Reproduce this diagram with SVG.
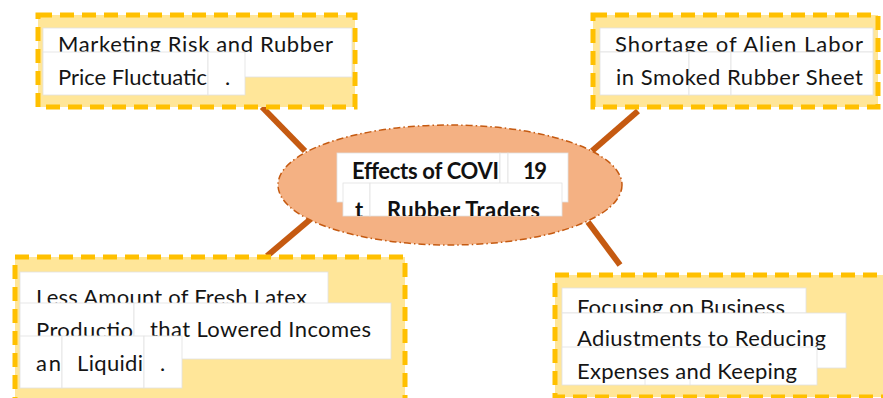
<svg xmlns="http://www.w3.org/2000/svg" width="883" height="398" viewBox="0 0 883 398">
<style>
.frame{fill:#FFE699;stroke:#FFC000;stroke-width:5;stroke-dasharray:14 8}
.wb{fill:#fff;stroke:#e2e2e2;stroke-width:0.8}
.t{font-family:Lato,"Liberation Sans",sans-serif;font-size:22px;fill:#151515}
.tb{font-family:Lato,"Liberation Sans",sans-serif;font-size:22px;font-weight:bold;fill:#111}
.con{stroke:#C55A11;stroke-width:6;fill:none}
</style>
<defs>
<clipPath id="clipC"><rect x="330" y="180" width="240" height="36"/></clipPath>
<clipPath id="clipBR"><rect x="560" y="347" width="260" height="38"/></clipPath>
</defs>
<rect width="883" height="398" fill="#fff"/>
<g id="connectors">
<line class="con" x1="262" y1="107" x2="305" y2="151"/>
<line class="con" x1="638" y1="111" x2="592" y2="151"/>
<line class="con" x1="313" y1="217" x2="267" y2="256"/>
<line class="con" x1="588" y1="222" x2="620" y2="265"/>
</g>
<g id="node-tl">
<rect class="frame" x="38" y="15" width="317" height="92"/>
<rect class="wb" x="43" y="28" width="309" height="49"/>
<text class="t" x="58" y="52" textLength="275">Marketing Risk and Rubber</text>
<rect class="wb" x="43" y="52" width="165" height="43"/>
<rect class="wb" x="208" y="52" width="37" height="43"/>
<text class="t" x="58" y="85" textLength="149">Price Fluctuatic</text>
<text class="t" x="225" y="85">.</text>
</g>
<g id="node-tr">
<rect class="frame" x="593" y="15" width="285" height="92"/>
<rect class="wb" x="600" y="28" width="273" height="24"/>
<text class="t" x="615" y="52" textLength="248">Shortage  of  Alien  Labor</text>
<rect class="wb" x="600" y="52" width="89" height="43"/>
<rect class="wb" x="689" y="52" width="42" height="43"/>
<rect class="wb" x="731" y="52" width="142" height="43"/>
<text class="t" x="616" y="85" textLength="247">in Smoked Rubber Sheet</text>
</g>
<g id="node-center">
<ellipse cx="450" cy="185" rx="172" ry="60" fill="#F4B183" stroke="#C55A11" stroke-width="1.5" stroke-dasharray="7 3 1.5 3"/>
<rect class="wb" x="337" y="153" width="163" height="49"/>
<rect class="wb" x="500" y="153" width="8" height="49"/>
<rect class="wb" x="508" y="153" width="60" height="49"/>
<text class="tb" x="352" y="179" textLength="147">Effects of COVI</text>
<text class="tb" x="523" y="179" textLength="24">19</text>
<rect class="wb" x="343" y="183" width="27" height="33"/>
<rect class="wb" x="370" y="183" width="192" height="33"/>
<g clip-path="url(#clipC)">
<text class="tb" x="355" y="218">t</text>
<text class="tb" x="387" y="218" textLength="153">Rubber Traders</text>
</g>
</g>
<g id="node-bl">
<rect class="frame" x="15" y="257" width="390" height="160"/>
<rect class="wb" x="20" y="272" width="308" height="48"/>
<text class="t" x="36" y="305" textLength="271">Less Amount of Fresh Latex</text>
<rect class="wb" x="20" y="303" width="114" height="47"/>
<rect class="wb" x="134" y="303" width="257" height="56"/>
<text class="t" x="36" y="338" textLength="97">Productio</text>
<text class="t" x="150" y="337" textLength="221">that Lowered Incomes</text>
<rect class="wb" x="20" y="336" width="42" height="52"/>
<rect class="wb" x="62" y="336" width="82" height="52"/>
<rect class="wb" x="144" y="336" width="38" height="52"/>
<text class="t" x="36" y="371" textLength="25">an</text>
<text class="t" x="77" y="371" textLength="66">Liquidi</text>
<text class="t" x="160" y="371">.</text>
</g>
<g id="node-br">
<rect class="frame" x="555" y="275" width="340" height="122"/>
<rect class="wb" x="562" y="288" width="244" height="25"/>
<text class="t" x="577" y="315" textLength="208">Focusing on Business</text>
<rect class="wb" x="562" y="313" width="284" height="55"/>
<text class="t" x="577" y="346" textLength="249">Adiustments to Reducing</text>
<rect class="wb" x="562" y="347" width="255" height="38"/>
<line x1="645" y1="378" x2="645" y2="385" stroke="#e2e2e2" stroke-width="0.8"/>
<line x1="690" y1="378" x2="690" y2="385" stroke="#e2e2e2" stroke-width="0.8"/>
<g clip-path="url(#clipBR)">
<text class="t" x="577" y="379" textLength="220">Expenses and Keeping</text>
</g>
</g>
</svg>
